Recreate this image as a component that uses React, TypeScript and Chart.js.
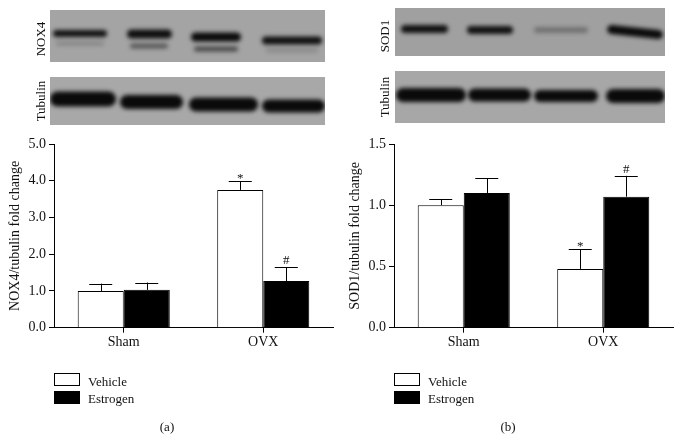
import React, { useEffect, useRef } from "react";
import { Chart, registerables } from "chart.js";
Chart.register(...registerables);

const FONT = "'Liberation Serif', 'Times New Roman', serif";

// ---- data ----
const categories = ["Sham", "OVX"];
const seriesNames = ["Vehicle", "Estrogen"];

// panel (a): NOX4/tubulin
const noxVehicle = [1.0, 3.75];
const noxVehicleErr = [0.2, 0.24];
const noxEstrogen = [1.03, 1.27];
const noxEstrogenErr = [0.2, 0.38];
const noxVehicleMarks = ["", "*"];
const noxEstrogenMarks = ["", "#"];
const noxTicks = [0, 1, 2, 3, 4, 5];

// panel (b): SOD1/tubulin
const sodVehicle = [1.0, 0.48];
const sodVehicleErr = [0.05, 0.16];
const sodEstrogen = [1.1, 1.07];
const sodEstrogenErr = [0.12, 0.17];
const sodVehicleMarks = ["", "*"];
const sodEstrogenMarks = ["", "#"];
const sodTicks = [0, 0.5, 1.0, 1.5];

// ---- blot image appearance (decorative, figure coordinates) ----
type Band = [number, number, number, number, number, number?];
const blotSpecs: { offset: number; rect: [number, number, number, number]; bg: string; bands: Band[] }[][] = [
  [
    {
      offset: 0,
      rect: [50, 10, 275, 52],
      bg: "#a4a4a4",
      bands: [
        [53, 107, 33.5, 7, 0.95], [56, 104, 43.5, 4, 0.2],
        [127, 172, 34, 9, 0.97], [130, 168, 46, 5, 0.5],
        [191, 241, 37, 9, 1], [194, 238, 49, 5, 0.6],
        [262, 322, 40.5, 8, 0.95], [266, 318, 50.5, 4, 0.18],
      ],
    },
    {
      offset: 0,
      rect: [50, 77, 275, 48],
      bg: "#a8a8a8",
      bands: [
        [50, 116, 99, 15, 1], [120, 183, 102, 14, 1], [189, 258, 104.5, 14, 1], [262, 325, 106, 13, 1],
      ],
    },
  ],
  [
    {
      offset: 340,
      rect: [395, 8, 270, 48],
      bg: "#a0a0a0",
      bands: [
        [401, 448, 29, 8, 0.95], [467, 513, 30, 8, 0.95], [534, 588, 30, 6, 0.3], [607, 663, 32, 9, 1, 6],
      ],
    },
    {
      offset: 340,
      rect: [395, 71, 270, 52],
      bg: "#a7a7a7",
      bands: [
        [396, 466, 95, 14, 1], [468, 531, 95, 13, 1], [534, 598, 96, 12, 1], [606, 665, 96, 14, 1],
      ],
    },
  ],
];

const errorPlugin = {
  id: "errorBars",
  afterDatasetsDraw(chart: any) {
    const ctx = chart.ctx;
    const y = chart.scales.y;
    chart.data.datasets.forEach((ds: any, i: number) => {
      const meta = chart.getDatasetMeta(i);
      meta.data.forEach((bar: any, j: number) => {
        const v = ds.data[j];
        const e = ds.errors[j];
        const x = bar.x;
        const yTop = y.getPixelForValue(v);
        const yErr = y.getPixelForValue(v + e);
        ctx.save();
        ctx.strokeStyle = "#000";
        ctx.lineWidth = 1;
        ctx.beginPath();
        ctx.moveTo(Math.round(x) + 0.5, yTop);
        ctx.lineTo(Math.round(x) + 0.5, yErr);
        ctx.moveTo(x - 11.5, Math.round(yErr) + 0.5);
        ctx.lineTo(x + 11.5, Math.round(yErr) + 0.5);
        ctx.stroke();
        const mark = ds.marks[j];
        if (mark) {
          ctx.fillStyle = "#111";
          ctx.font = `13px ${FONT}`;
          ctx.textAlign = "center";
          ctx.textBaseline = "bottom";
          ctx.fillText(mark, x, yErr - (mark === "*" ? -4 : 0));
        }
        ctx.restore();
      });
    });
  },
};

const blotPlugin = {
  id: "blots",
  afterDraw(chart: any) {
    const specs = chart.options.plugins.blots.specs;
    const ctx = chart.ctx;
    specs.forEach((s: any) => {
      const [rx, ry, rw, rh] = s.rect;
      const ox = s.offset;
      ctx.save();
      ctx.fillStyle = s.bg;
      ctx.fillRect(rx - ox, ry, rw, rh);
      ctx.beginPath();
      ctx.rect(rx - ox, ry, rw, rh);
      ctx.clip();
      ctx.filter = "blur(2px)";
      s.bands.forEach((b: Band) => {
        const [x1, x2, yc, h, a, slant] = b;
        const w = x2 - x1;
        ctx.save();
        ctx.translate((x1 + x2) / 2 - ox, yc);
        if (slant) ctx.rotate(Math.atan2(slant, w));
        ctx.fillStyle = `rgba(10,10,10,${a})`;
        ctx.beginPath();
        (ctx as any).roundRect(-w / 2, -h / 2, w, h, h / 2);
        ctx.fill();
        ctx.restore();
      });
      ctx.restore();
    });
  },
};

function makeConfig(
  veh: number[], vehErr: number[], vehMarks: string[],
  est: number[], estErr: number[], estMarks: string[],
  ticks: number[], title: string, specs: any
): any {
  return {
    type: "bar",
    data: {
      labels: categories,
      datasets: [
        {
          label: seriesNames[0], data: veh, errors: vehErr, marks: vehMarks,
          backgroundColor: "#ffffff", borderColor: "#000", borderWidth: 1,
          categoryPercentage: 0.66, barPercentage: 1,
        },
        {
          label: seriesNames[1], data: est, errors: estErr, marks: estMarks,
          backgroundColor: "#000000", borderColor: "#000", borderWidth: 1,
          categoryPercentage: 0.66, barPercentage: 1,
        },
      ],
    },
    options: {
      responsive: false,
      animation: false,
      devicePixelRatio: 1,
      layout: { padding: { left: 0, right: 7, top: 144, bottom: 90.3 } },
      plugins: { legend: { display: false }, tooltip: { enabled: false }, blots: { specs } },
      scales: {
        x: {
          grid: { display: true, drawOnChartArea: false, drawTicks: true, tickLength: 5, color: "#000", offset: false },
          border: { display: true, color: "#000", width: 1 },
          ticks: { color: "#111", font: { size: 14, family: FONT }, padding: 1 },
          afterFit: (s: any) => { s.height = 20; },
        },
        y: {
          min: ticks[0],
          max: ticks[ticks.length - 1],
          afterBuildTicks: (s: any) => { s.ticks = ticks.map((v) => ({ value: v })); },
          grid: { display: true, drawOnChartArea: false, drawTicks: true, tickLength: 5, color: "#000" },
          border: { display: true, color: "#000", width: 1 },
          ticks: { color: "#111", font: { size: 14, family: FONT }, padding: 3, callback: (v: number) => Number(v).toFixed(1) },
          title: { display: true, text: title, color: "#111", font: { size: 14, family: FONT }, padding: { top: 7, bottom: 0 } },
          afterFit: (s: any) => { s.width = 54; },
        },
      },
    },
    plugins: [errorPlugin, blotPlugin],
  };
}

function Panel(props: { left: number; config: any }) {
  const ref = useRef<HTMLCanvasElement>(null);
  useEffect(() => {
    const chart = new Chart(ref.current as HTMLCanvasElement, props.config);
    return () => chart.destroy();
  }, []);
  return (
    <canvas ref={ref} width={340} height={438}
      style={{ position: "absolute", left: props.left, top: 0, width: 340, height: 438 }} />
  );
}

function VLabel(props: { x: number; y: number; text: string }) {
  return (
    <div style={{
      position: "absolute", left: props.x, top: props.y, transform: "translate(-50%, -50%) rotate(-90deg)",
      whiteSpace: "nowrap", fontSize: 13, color: "#111", lineHeight: "14px",
    }}>{props.text}</div>
  );
}

function Legend(props: { x: number }) {
  const box = (fill: string, top: number) => (
    <div style={{ position: "absolute", left: props.x, top, width: 24, height: 11, border: "1px solid #000", background: fill }} />
  );
  const txt = (t: string, cy: number) => (
    <div style={{ position: "absolute", left: props.x + 34, top: cy - 8, fontSize: 13, lineHeight: "16px", color: "#111", whiteSpace: "nowrap" }}>{t}</div>
  );
  return (
    <>
      {box("#fff", 373)}
      {box("#000", 390.5)}
      {txt(seriesNames[0], 381.7)}
      {txt(seriesNames[1], 399)}
    </>
  );
}

function Caption(props: { x: number; text: string }) {
  return (
    <div style={{ position: "absolute", left: props.x, top: 427, transform: "translate(-50%, -50%)", fontSize: 13, color: "#111", whiteSpace: "nowrap" }}>{props.text}</div>
  );
}

export default function App() {
  const cfgA = makeConfig(noxVehicle, noxVehicleErr, noxVehicleMarks, noxEstrogen, noxEstrogenErr, noxEstrogenMarks,
    noxTicks, "NOX4/tubulin fold change", blotSpecs[0]);
  const cfgB = makeConfig(sodVehicle, sodVehicleErr, sodVehicleMarks, sodEstrogen, sodEstrogenErr, sodEstrogenMarks,
    sodTicks, "SOD1/tubulin fold change", blotSpecs[1]);
  return (
    <div style={{ position: "absolute", left: 0, top: 0, width: 680, height: 438, background: "#fff", fontFamily: FONT, overflow: "hidden" }}>
      <Panel left={0} config={cfgA} />
      <Panel left={340} config={cfgB} />
      <VLabel x={41} y={39} text="NOX4" />
      <VLabel x={41} y={101} text="Tubulin" />
      <VLabel x={385} y={36} text="SOD1" />
      <VLabel x={385} y={97} text="Tubulin" />
      <Legend x={54} />
      <Legend x={394} />
      <Caption x={167} text="(a)" />
      <Caption x={508} text="(b)" />
    </div>
  );
}
